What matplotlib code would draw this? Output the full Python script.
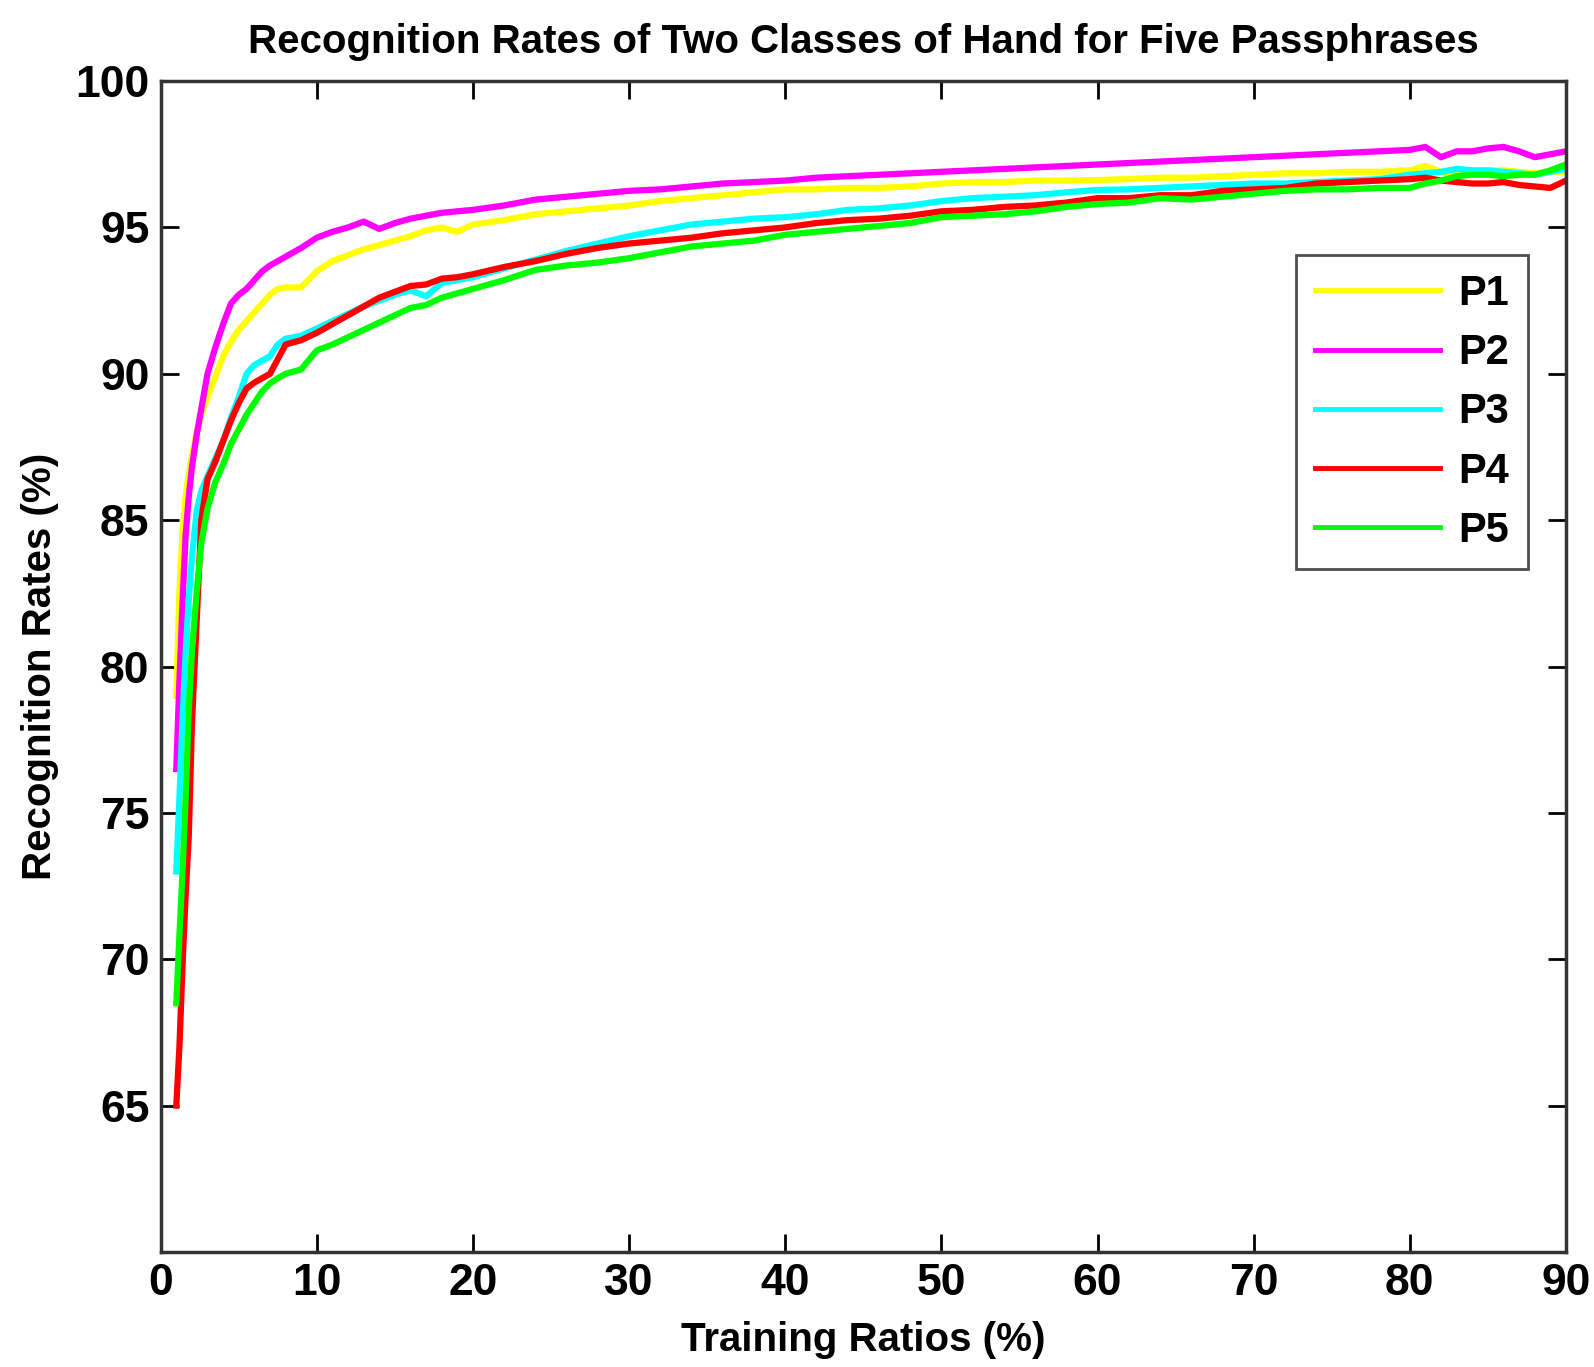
import matplotlib
matplotlib.use("Agg")
import matplotlib.pyplot as plt

plt.rcParams['font.family'] = ['Liberation Sans Narrow', 'Liberation Sans', 'DejaVu Sans']
plt.rcParams['font.weight'] = 'bold'

# training ratio (%) sample points
ratio = [1.0, 1.2, 1.4, 1.6, 1.8, 2.0, 2.3, 2.6, 3.0, 3.5, 4.0, 4.5, 5.0, 5.5, 6.0, 6.5,
         7.0, 7.5, 8.0, 9.0, 10, 11, 12, 13, 14, 15, 16, 17, 18, 19, 20, 22, 24, 26, 28,
         30, 32, 34, 36, 38, 40, 42, 44, 46, 48, 50, 52, 54, 56, 58, 60, 62, 64, 66, 68,
         70, 72, 74, 76, 78, 80, 81, 82, 83, 84, 85, 86, 87, 88, 89, 90]

p1 = [79.0, 82.5, 84.6, 85.8, 86.6, 87.2, 88.0, 88.6, 89.2, 89.9, 90.6, 91.1, 91.5, 91.8,
      92.1, 92.4, 92.7, 92.9, 92.95, 92.95, 93.5, 93.85, 94.05, 94.25, 94.4, 94.55, 94.7,
      94.9, 95.0, 94.85, 95.1, 95.25, 95.45, 95.55, 95.65, 95.75, 95.9, 96.0, 96.1, 96.2,
      96.3, 96.3, 96.35, 96.35, 96.4, 96.5, 96.55, 96.55, 96.6, 96.6, 96.62, 96.65, 96.7,
      96.7, 96.75, 96.8, 96.85, 96.85, 96.9, 96.9, 96.95, 97.1, 96.9, 96.8, 96.9, 96.95,
      96.95, 96.9, 96.85, 96.9, 96.9]

p2 = [76.5, 79.5, 82.2, 84.5, 85.8, 86.8, 87.9, 88.8, 90.0, 90.9, 91.7, 92.4, 92.7, 92.9,
      93.2, 93.5, 93.7, 93.85, 94.0, 94.3, 94.65, 94.85, 95.0, 95.2, 94.95, 95.15, 95.3,
      95.4, 95.5, 95.55, 95.6, 95.75, 95.95, 96.05, 96.15, 96.25, 96.3, 96.4, 96.5, 96.55,
      96.6, 96.7, 96.75, 96.8, 96.85, 96.9, 96.95, 97.0, 97.05, 97.1, 97.15, 97.2, 97.25,
      97.3, 97.35, 97.4, 97.45, 97.5, 97.55, 97.6, 97.65, 97.75, 97.4, 97.6, 97.6, 97.7,
      97.75, 97.6, 97.4, 97.5, 97.6]

p3 = [73.0, 75.5, 78.2, 80.5, 82.3, 83.7, 85.3, 86.0, 86.5, 87.1, 87.7, 88.5, 89.2, 90.0,
      90.3, 90.45, 90.6, 91.0, 91.2, 91.3, 91.55, 91.8, 92.05, 92.3, 92.5, 92.7, 92.85,
      92.65, 93.1, 93.2, 93.3, 93.6, 93.9, 94.2, 94.45, 94.7, 94.9, 95.1, 95.2, 95.3,
      95.35, 95.45, 95.6, 95.65, 95.75, 95.9, 96.0, 96.05, 96.1, 96.2, 96.28, 96.3, 96.35,
      96.4, 96.45, 96.5, 96.5, 96.55, 96.6, 96.65, 96.8, 96.85, 96.9, 97.0, 96.95, 96.95,
      96.9, 96.85, 96.8, 96.9, 97.0]

p4 = [65.0, 67.0, 69.8, 72.2, 74.2, 78.0, 81.5, 85.0, 86.4, 87.0, 87.7, 88.4, 89.0, 89.5,
      89.7, 89.85, 90.0, 90.5, 91.0, 91.15, 91.4, 91.7, 92.0, 92.3, 92.6, 92.8, 93.0,
      93.05, 93.25, 93.3, 93.4, 93.65, 93.85, 94.1, 94.3, 94.45, 94.55, 94.65, 94.8, 94.9,
      95.0, 95.15, 95.25, 95.3, 95.4, 95.55, 95.6, 95.7, 95.75, 95.85, 96.0, 96.0, 96.1,
      96.1, 96.25, 96.3, 96.35, 96.5, 96.55, 96.6, 96.65, 96.7, 96.6, 96.55, 96.5, 96.5,
      96.55, 96.45, 96.4, 96.35, 96.6]

p5 = [68.5, 70.8, 73.0, 75.5, 78.5, 80.5, 82.5, 84.2, 85.4, 86.3, 86.9, 87.6, 88.1, 88.6,
      89.0, 89.4, 89.67, 89.85, 90.0, 90.15, 90.8, 91.0, 91.25, 91.5, 91.75, 92.0, 92.25,
      92.35, 92.6, 92.75, 92.9, 93.2, 93.55, 93.7, 93.8, 93.95, 94.15, 94.35, 94.45, 94.55,
      94.75, 94.85, 94.95, 95.05, 95.15, 95.35, 95.4, 95.45, 95.55, 95.7, 95.8, 95.85, 96.0,
      95.95, 96.05, 96.15, 96.25, 96.3, 96.3, 96.35, 96.35, 96.5, 96.6, 96.75, 96.8, 96.8,
      96.75, 96.8, 96.8, 96.95, 97.15]

labels = ['P1', 'P2', 'P3', 'P4', 'P5']
colors = ['#ffff00', '#ff00ff', '#00ffff', '#ff0000', '#00ff00']
xticks = [0, 10, 20, 30, 40, 50, 60, 70, 80, 90]
yticks = [65, 70, 75, 80, 85, 90, 95, 100]

fig = plt.figure(figsize=(15.94, 13.67), dpi=100)
ax = fig.add_axes([0.1008, 0.0841, 0.8816, 0.8566])

for ys, c, lab in zip([p1, p2, p3, p4, p5], colors, labels):
    ax.plot(ratio, ys, color=c, lw=4.5, label=lab)

ax.set_xlim(0, 90)
ax.set_ylim(60, 100)
ax.set_xticks(xticks)
ax.set_yticks(yticks)
ax.tick_params(direction='in', length=13, width=2, top=True, right=True,
               labelsize=32, pad=8)
for s in ax.spines.values():
    s.set_linewidth(2.5)
    s.set_color('#333333')

ax.set_title('Recognition Rates of Two Classes of Hand for Five Passphrases',
             fontsize=29, fontweight='bold', pad=20)
ax.set_xlabel('Training Ratios (%)', fontsize=29, fontweight='bold', labelpad=12)
ax.set_ylabel('Recognition Rates (%)', fontsize=29, fontweight='bold', labelpad=12)

leg = ax.legend(loc='upper right', bbox_to_anchor=(0.988, 0.869), fontsize=30,
                frameon=True, fancybox=False, handlelength=3.0, handletextpad=0.45,
                labelspacing=0.46, borderpad=0.45)
leg.get_frame().set_edgecolor('#222222')
leg.get_frame().set_linewidth(2)
for h in leg.get_lines():
    h.set_linewidth(3.5)

fig.savefig('out.png', dpi=100)
